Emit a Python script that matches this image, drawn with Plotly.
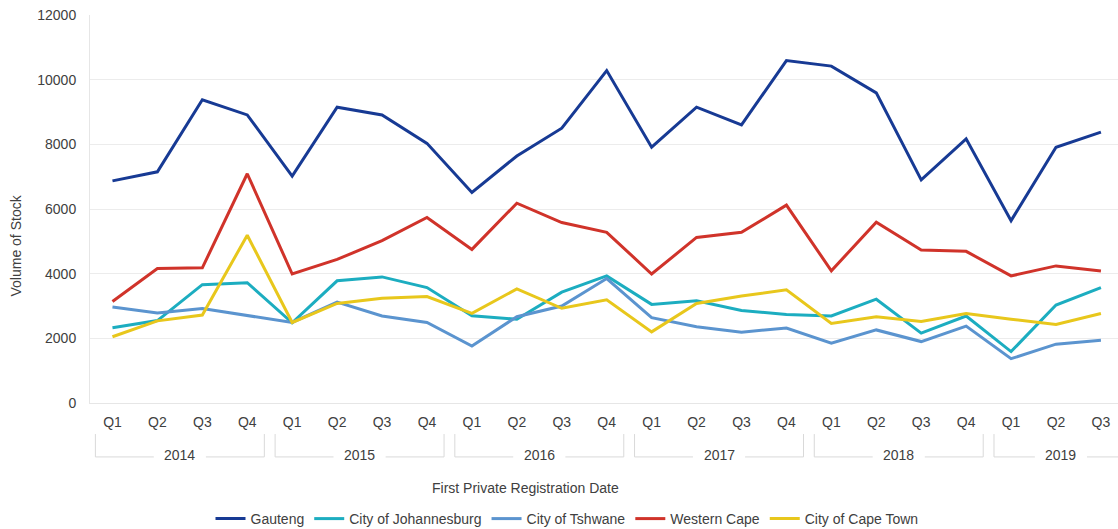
import plotly.graph_objects as go

years = ["2014", "2015", "2016", "2017", "2018", "2019"]
quarters_per_year = [4, 4, 4, 4, 4, 3]
quarter_labels = ["Q1", "Q2", "Q3", "Q4"] * 5 + ["Q1", "Q2", "Q3"]

gauteng = [6870, 7150, 9380, 8910, 7020, 9150, 8910, 8030,
           6510, 7640, 8500, 10280, 7910, 9150, 8600, 10590,
           10420, 9590, 6900, 8170, 5640, 7910, 8380]
johannesburg = [2330, 2550, 3660, 3720, 2480, 3780, 3900, 3570,
                2700, 2590, 3430, 3930, 3050, 3160, 2860, 2740,
                2690, 3210, 2160, 2690, 1590, 3030, 3570]
tshwane = [2970, 2780, 2920, 2710, 2490, 3120, 2690, 2490,
           1760, 2670, 3000, 3850, 2640, 2360, 2190, 2320,
           1850, 2260, 1900, 2380, 1370, 1820, 1940]
western_cape = [3140, 4160, 4180, 7090, 3990, 4440, 5020, 5740,
                4750, 6180, 5580, 5280, 3990, 5120, 5280, 6120,
                4090, 5590, 4730, 4690, 3930, 4240, 4080]
cape_town = [2050, 2540, 2720, 5190, 2490, 3080, 3240, 3290,
             2770, 3530, 2930, 3190, 2200, 3080, 3310, 3500,
             2460, 2670, 2520, 2770, 2590, 2430, 2770]

series = [
    ("Gauteng", gauteng, "#173a94"),
    ("City of Johannesburg", johannesburg, "#1cadc0"),
    ("City of Tshwane", tshwane, "#5b94cf"),
    ("Western Cape", western_cape, "#d0332a"),
    ("City of Cape Town", cape_town, "#e8c71c"),
]

idx = list(range(len(quarter_labels)))
font = "Liberation Sans, Arial, sans-serif"
label_color = "#404040"
fs = 14

fig = go.Figure()
for name, vals, color in series:
    fig.add_trace(go.Scatter(x=idx, y=vals, mode="lines", name=name,
                             line=dict(color=color, width=3)))

# year brackets
shapes = []
annotations = []
start = 0
m = 0.12
gap = 0.58
line_col = "#d9d9d9"
y_top, y_bot = -0.080, -0.139
x_end = 22.6
for k, (yr, n) in enumerate(zip(years, quarters_per_year)):
    x0 = start - 0.5 + m
    x1 = start + n - 0.5 - m if k < len(years) - 1 else x_end
    c = (x0 + x1) / 2
    line = dict(color=line_col, width=1)
    shapes += [
        dict(type="line", xref="x", yref="paper", x0=x0, x1=x0, y0=y_top, y1=y_bot, line=line),
        dict(type="line", xref="x", yref="paper", x0=c + gap, x1=x1, y0=y_bot, y1=y_bot, line=line),
        dict(type="line", xref="x", yref="paper", x0=x0, x1=c - gap, y0=y_bot, y1=y_bot, line=line),
    ]
    if k < len(years) - 1:
        shapes.append(dict(type="line", xref="x", yref="paper", x0=x1, x1=x1,
                           y0=y_top, y1=y_bot, line=line))
    annotations.append(dict(text=yr, x=c, y=(403 - 455) / 388, xref="x", yref="paper",
                            showarrow=False, yanchor="middle",
                            font=dict(size=fs, color=label_color, family=font)))
    start += n

annotations.append(dict(text="First Private Registration Date", x=(525 - 90) / 1028,
                        xref="paper", y=(403 - 488) / 388, yref="paper",
                        showarrow=False, yanchor="middle",
                        font=dict(size=fs, color=label_color, family=font)))
annotations.append(dict(text="Volume of Stock", x=-0.0715, y=(403 - 245) / 388,
                        xref="paper", yref="paper", textangle=-90, showarrow=False,
                        xanchor="center", yanchor="middle",
                        font=dict(size=fs, color=label_color, family=font)))

fig.update_layout(
    width=1118, height=529,
    margin=dict(l=90, r=0, t=15, b=126, autoexpand=False),
    paper_bgcolor="white", plot_bgcolor="white",
    font=dict(family=font, size=fs, color=label_color),
    showlegend=True,
    legend=dict(orientation="h", x=(567 - 90) / 1028, xanchor="center",
                y=(403 - 519) / 388, yanchor="middle",
                font=dict(size=fs, color=label_color, family=font),
                itemwidth=30, tracegroupgap=0),
    shapes=shapes,
    annotations=annotations,
)
fig.update_xaxes(
    tickmode="array", tickvals=idx, ticktext=quarter_labels,
    range=[-0.5, 22.38], showgrid=False, zeroline=False,
    showline=True, linecolor="#e6e6e6", linewidth=1,
    ticks="", tickfont=dict(size=fs, color=label_color, family=font),
    ticklabelstandoff=6,
)
fig.update_yaxes(
    range=[0, 12000], dtick=2000, tickformat="d",
    showgrid=True, gridcolor="#ececec", gridwidth=1,
    zeroline=False, showline=True, linecolor="#e6e6e6", linewidth=1,
    ticks="", tickfont=dict(size=fs, color=label_color, family=font),
    ticklabelstandoff=10,
)

fig.write_html("out.html")
